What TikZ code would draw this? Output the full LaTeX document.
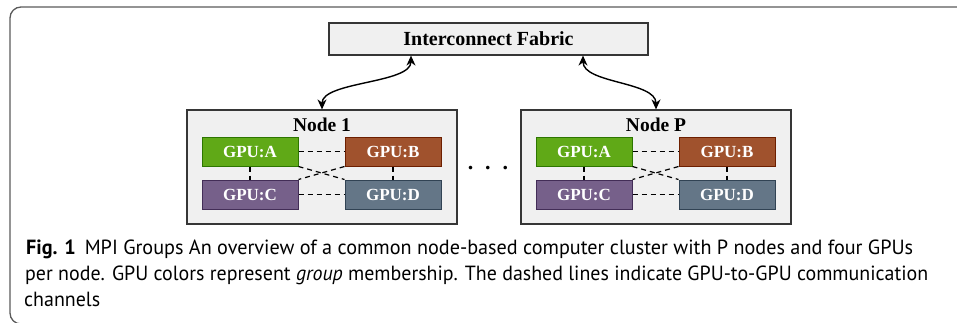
\documentclass[tikz,border=0pt]{standalone}
\usepackage{fontspec}
\setmainfont{Liberation Serif}
\newfontfamily\capfont{PT Sans}
\usetikzlibrary{arrows.meta}
\definecolor{gpuAf}{HTML}{60A917}\definecolor{gpuAd}{HTML}{2D7600}
\definecolor{gpuBf}{HTML}{A0522D}\definecolor{gpuBd}{HTML}{6D1F00}
\definecolor{gpuCf}{HTML}{76608A}\definecolor{gpuCd}{HTML}{432D57}
\definecolor{gpuDf}{HTML}{647687}\definecolor{gpuDd}{HTML}{314354}
\definecolor{boxfill}{HTML}{F0F0F0}
\definecolor{boxdraw}{HTML}{363636}
\definecolor{framecol}{HTML}{5A5A5A}
\begin{document}
\begin{tikzpicture}[x=1pt,y=-1pt,
  graybox/.style={draw=boxdraw, fill=boxfill, line width=1.2pt, inner sep=0pt},
  gpu/.style={draw=#1d, fill=#1f, line width=1pt, minimum width=96pt, minimum height=29pt,
    inner sep=0pt, text=white, font=\fontsize{17}{17}\selectfont\bfseries},
  link/.style={draw=black, line width=1.2pt, dash pattern=on 5pt off 4pt},
  conn/.style={draw=black, line width=1.4pt, {Stealth[length=10pt,width=9pt]}-{Stealth[length=10pt,width=9pt]}},
  lbl/.style={font=\fontsize{19.5}{19.5}\selectfont\bfseries, inner sep=0pt},
  capline/.style={anchor=base west, inner sep=0pt, font=\capfont\fontsize{20.5}{26}\selectfont}
]
\useasboundingbox (0,0) rectangle (957,322);
% frame
\draw[framecol, line width=1.3pt, rounded corners=11pt] (975,7) -- (10,7) -- (10,324) -- (975,324);

% interconnect
\node[graybox, minimum width=319pt, minimum height=32pt, font=\fontsize{20}{20}\selectfont\bfseries] (fab) at (488.5,39) {Interconnect Fabric};

% node boxes
\node[graybox, minimum width=270pt, minimum height=114pt] (n1) at (322,167) {};
\node[lbl] (n1l) at (322,125) {Node 1};
\node[graybox, minimum width=270pt, minimum height=114pt] (nP) at (656,167) {};
\node[lbl] (nPl) at (656,125) {Node P};

% GPUs node 1
\node[gpu=gpuA] (a1) at (250,151.5) {GPU:A};
\node[gpu=gpuB] (b1) at (393,151.5) {GPU:B};
\node[gpu=gpuC] (c1) at (250,194.5) {GPU:C};
\node[gpu=gpuD] (d1) at (393,194.5) {GPU:D};
% GPUs node P
\node[gpu=gpuA] (aP) at (584,151.5) {GPU:A};
\node[gpu=gpuB] (bP) at (727,151.5) {GPU:B};
\node[gpu=gpuC] (cP) at (584,194.5) {GPU:C};
\node[gpu=gpuD] (dP) at (727,194.5) {GPU:D};

\foreach \s in {1,P}{
  \draw[link] (a\s.east) -- (b\s.west);
  \draw[link] (c\s.east) -- (d\s.west);
  \draw[link] (a\s.south) -- (c\s.north);
  \draw[link] (b\s.south) -- (d\s.north);
  \draw[link] (a\s.south east) -- (d\s.north west);
  \draw[link] (b\s.south west) -- (c\s.north east);
}

% dots
\node[font=\fontsize{22}{22}\selectfont\bfseries, inner sep=0pt] (dots) at (488,168.5) {.\hspace{12pt}.\hspace{12pt}.};

% connectors
\draw[conn] ([xshift=-77.5pt]fab.south) .. controls +(0,28) and +(0,-28) .. (n1.north);
\draw[conn] ([xshift=94.5pt]fab.south) .. controls +(0,28) and +(0,-28) .. (nP.north);

% caption
\node[capline] (cap1) at (26,254.5) {\resizebox{887pt}{\height}{\textbf{Fig. 1}\hspace{9pt}MPI Groups An overview of a common node-based computer cluster with P nodes and four GPUs}};
\node[capline] (cap2) at (25,280.5) {\resizebox{903pt}{\height}{per node. GPU colors represent \textit{group} membership. The dashed lines indicate GPU-to-GPU communication}};
\node[capline] (cap3) at (24,306.5) {\resizebox{76pt}{\height}{channels}};
\end{tikzpicture}
\end{document}
